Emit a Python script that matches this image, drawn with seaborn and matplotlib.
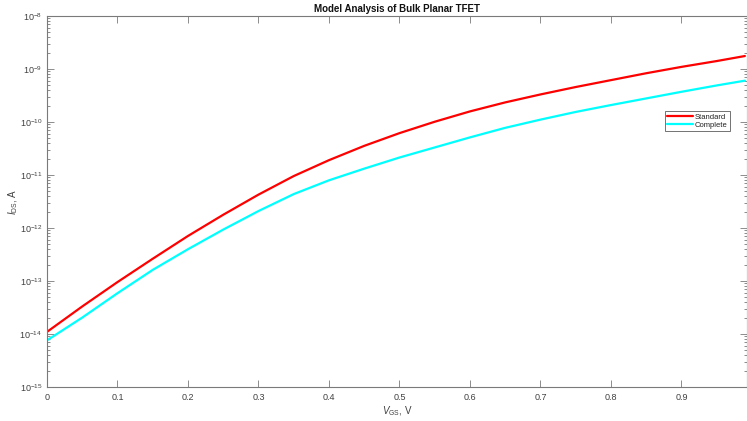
import numpy as np
import pandas as pd
import matplotlib
matplotlib.use("Agg")
import matplotlib.pyplot as plt
from matplotlib.ticker import LogLocator, FixedLocator, NullFormatter
import seaborn as sns

# ---- data ----
vgs = [0.00, 0.05, 0.10, 0.15, 0.20, 0.25, 0.30, 0.35, 0.40, 0.45, 0.50,
       0.55, 0.60, 0.65, 0.70, 0.75, 0.80, 0.85, 0.90, 0.95, 0.99]
log_ids_standard = [-13.96, -13.48, -13.02, -12.58, -12.15, -11.75, -11.37, -11.02,
                    -10.72, -10.45, -10.21, -9.995, -9.80, -9.63, -9.48, -9.34,
                    -9.21, -9.08, -8.96, -8.85, -8.755]
log_ids_complete = [-14.12, -13.69, -13.23, -12.79, -12.40, -12.03, -11.68, -11.36,
                    -11.10, -10.88, -10.67, -10.48, -10.29, -10.11, -9.955, -9.81,
                    -9.68, -9.555, -9.43, -9.31, -9.22]
series_names = ["Standard", "Complete"]
series_colors = ["#ff0000", "#00ffff"]
x_ticks = [0, 0.1, 0.2, 0.3, 0.4, 0.5, 0.6, 0.7, 0.8, 0.9]
x_tick_labels = ["0", "0.1", "0.2", "0.3", "0.4", "0.5", "0.6", "0.7", "0.8", "0.9"]
title = "Model Analysis of Bulk Planar TFET"

df = pd.concat([
    pd.DataFrame({"Vgs": vgs, "Ids": np.power(10.0, log_ids_standard), "Model": series_names[0]}),
    pd.DataFrame({"Vgs": vgs, "Ids": np.power(10.0, log_ids_complete), "Model": series_names[1]}),
], ignore_index=True)

sns.set_style("white")
plt.rcParams["font.family"] = ["Liberation Sans", "DejaVu Sans"]
plt.rcParams["mathtext.fontset"] = "custom"
plt.rcParams["mathtext.rm"] = "Liberation Sans"
plt.rcParams["mathtext.it"] = "Liberation Sans:italic"
plt.rcParams["mathtext.bf"] = "Liberation Sans:bold"

fig = plt.figure(figsize=(7.47, 4.21), dpi=100)
ax = fig.add_axes([47 / 747, 1 - 387 / 421, 700 / 747, (387 - 16) / 421])

sns.lineplot(data=df, x="Vgs", y="Ids", hue="Model", palette=dict(zip(series_names, series_colors)),
             linewidth=1.6, ax=ax, legend=True)

ax.set_yscale("log")
ax.set_ylim(1e-15, 1e-8)
ax.set_xlim(0, 0.993)

ax.xaxis.set_major_locator(FixedLocator(x_ticks))
ax.set_xticklabels(x_tick_labels)
ax.yaxis.set_major_locator(LogLocator(base=10, numticks=20))
ax.yaxis.set_minor_locator(LogLocator(base=10, subs=np.arange(2, 10), numticks=20))
ax.yaxis.set_minor_formatter(NullFormatter())

spine_col = "#7a7a7a"
text_col = "#404040"
for s in ax.spines.values():
    s.set_color(spine_col)
    s.set_linewidth(0.8)
    s.set_visible(True)
ax.tick_params(axis="both", which="both", direction="in", top=True, right=True, left=True, bottom=True,
               colors=spine_col, labelcolor=text_col, labelsize=6.5, width=0.6)
ax.tick_params(axis="both", which="major", length=5)
ax.tick_params(axis="y", which="minor", length=2.5)
ax.tick_params(axis="x", pad=4)

ax.set_xlabel(r"$V_{\mathrm{GS}}$, V", fontsize=7, color=text_col, labelpad=2)
ax.set_ylabel(r"$I_{\mathrm{DS}}$, A", fontsize=7, color=text_col)
ax.yaxis.set_label_coords(-0.038, 0.5)
ax.set_title(title, fontsize=7, fontweight="bold", color="#111111", pad=3)

leg = ax.legend(loc="upper right", bbox_to_anchor=((730 - 47) / 700, 1 - (111 - 16) / 371),
                fontsize=5.5, frameon=True, fancybox=False, handlelength=3.3,
                borderpad=0.3, labelspacing=0.15, handletextpad=0.3, borderaxespad=0)
leg.get_frame().set_edgecolor("#333333")
leg.get_frame().set_linewidth(0.6)
for t in leg.get_texts():
    t.set_color("#222222")

fig.savefig("out.png", dpi=100)
